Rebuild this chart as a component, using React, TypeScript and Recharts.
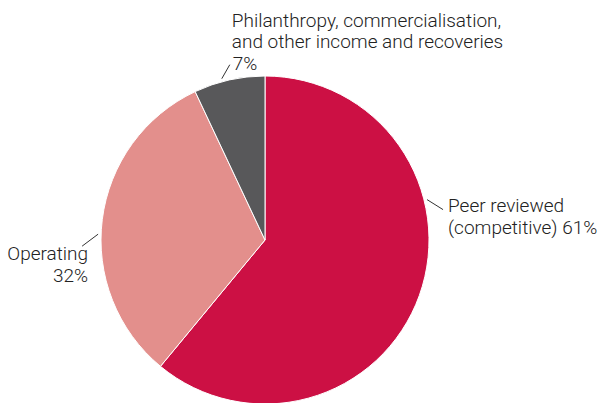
import { Pie, PieChart, Cell } from "recharts";

const sources = ["Peer reviewed (competitive)", "Operating", "Philanthropy, commercialisation, and other income and recoveries"];
const shares = [61, 32, 7];
const colors = ["#cc1044", "#e38f8c", "#58585a"];
const labelLines = [
  ["Peer reviewed", "(competitive) 61%"],
  ["Operating", "32%"],
  ["Philanthropy, commercialisation,", "and other income and recoveries", "7%"],
];

const data = sources.map((name, i) => ({ name, value: shares[i] }));

// where each leader tick touches the rim (degrees, counter-clockwise from 3 o'clock)
const tickAngles = [14, 178, 105];

const RAD = Math.PI / 180;

function renderLabel(props: any) {
  const { cx, cy, outerRadius, index } = props;
  const a = tickAngles[index] * RAD;
  const x0 = cx + (outerRadius + 3) * Math.cos(a);
  const y0 = cy - (outerRadius + 3) * Math.sin(a);
  const font = { fontFamily: "Roboto, 'Liberation Sans', sans-serif", fontSize: 19, fontWeight: 300, fill: "#222" };
  const lines = labelLines[index];

  if (index === 0) {
    const x1 = x0 + 16;
    const y1 = y0 + 10;
    return (
      <g>
        <line x1={x0} y1={y0} x2={x1} y2={y1} stroke="#333" strokeWidth={1} />
        {lines.map((t, i) => (
          <text key={i} x={x1 + 5} y={y1 + 2 + i * 22.5} {...font} textAnchor="start">
            {t}
          </text>
        ))}
      </g>
    );
  }
  if (index === 1) {
    const x1 = x0 - 16;
    const y1 = y0 + 12;
    return (
      <g>
        <line x1={x0} y1={y0} x2={x1} y2={y1} stroke="#333" strokeWidth={1} />
        {lines.map((t, i) => (
          <text key={i} x={x1 + 6} y={y1 + 14 + i * 22} {...font} textAnchor="end">
            {t}
          </text>
        ))}
      </g>
    );
  }
  const x1 = x0 + 8;
  const y1 = y0 - 14;
  return (
    <g>
      <line x1={x0} y1={y0} x2={x1} y2={y1} stroke="#333" strokeWidth={1} />
      {lines.map((t, i) => (
        <text key={i} x={x1 + (i === 2 ? 3 : 2)} y={y1 + 5 - (2 - i) * 21.5} {...font} textAnchor="start">
          {t}
        </text>
      ))}
    </g>
  );
}

export default function App() {
  return (
    <div style={{ position: "absolute", left: 0, top: 0, width: 599, height: 403, background: "#fff" }}>
      <PieChart width={599} height={403} margin={{ top: 0, right: 0, bottom: 0, left: 0 }}>
        <Pie
          data={data}
          dataKey="value"
          nameKey="name"
          cx={265}
          cy={240}
          outerRadius={164}
          startAngle={90}
          endAngle={-270}
          stroke="#fff"
          strokeWidth={1}
          label={renderLabel}
          labelLine={false}
          isAnimationActive={false}
        >
          {data.map((d, i) => (
            <Cell key={d.name} fill={colors[i]} />
          ))}
        </Pie>
      </PieChart>
    </div>
  );
}
